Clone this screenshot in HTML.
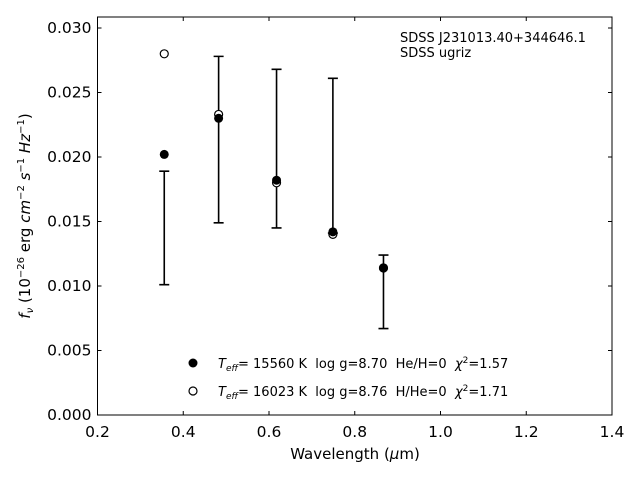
<!DOCTYPE html>
<html><head><meta charset="utf-8"><style>
body{margin:0;background:#fff;}
svg text{font-family:"DejaVu Sans","Liberation Sans",sans-serif;fill:#000;white-space:pre;}
</style></head><body>
<svg id="chart" width="640" height="480" xmlns="http://www.w3.org/2000/svg" xml:space="preserve">
<rect width="640" height="480" fill="#fff"/>
<g id="plot"></g>
<text x="400" y="42" font-size="13">SDSS J231013.40+344646.1</text>
<text x="400" y="57" font-size="13">SDSS ugriz</text>
<g>
<circle cx="193" cy="363" r="4.5" fill="#000"/>
<text x="218" y="368" font-size="13"><tspan font-style="italic">T</tspan><tspan font-style="italic" font-size="9" dy="3">eff</tspan><tspan dy="-3">= 15560 K  log g=8.70  He/H=0  </tspan><tspan font-style="italic">χ</tspan><tspan font-size="9" dy="-5">2</tspan><tspan dy="5">=1.57</tspan></text>
<circle cx="193" cy="391" r="4" fill="#fff" stroke="#000" stroke-width="1.2"/>
<text x="218" y="396" font-size="13"><tspan font-style="italic">T</tspan><tspan font-style="italic" font-size="9" dy="3">eff</tspan><tspan dy="-3">= 16023 K  log g=8.76  H/He=0  </tspan><tspan font-style="italic">χ</tspan><tspan font-size="9" dy="-5">2</tspan><tspan dy="5">=1.71</tspan></text>
</g>
<text x="355" y="459" font-size="15" text-anchor="middle">Wavelength (<tspan font-style="italic">μ</tspan>m)</text>
<text transform="translate(30,216) rotate(-90)" font-size="15" text-anchor="middle"><tspan font-style="italic">f</tspan><tspan font-style="italic" font-size="10" dy="3">ν</tspan><tspan dy="-3"> (10</tspan><tspan font-size="10" dy="-6">−26</tspan><tspan dy="6"> erg </tspan><tspan font-style="italic">cm</tspan><tspan font-size="10" dy="-6">−2</tspan><tspan dy="6" font-style="italic"> s</tspan><tspan font-size="10" dy="-6">−1</tspan><tspan dy="6" font-style="italic"> Hz</tspan><tspan font-size="10" dy="-6">−1</tspan><tspan dy="6">)</tspan></text>
</svg>
<script>
const wavelengths=[0.3557,0.4825,0.6176,0.7490,0.8670];
const errLow=[0.0101,0.0149,0.0145,0.0141,0.0067];
const errHigh=[0.0189,0.0278,0.0268,0.0261,0.0124];
const model1=[0.0202,0.0230,0.0182,0.0142,0.0114];
const model2=[0.0280,0.0233,0.0180,0.0140,0.0114];
const xTicks=[0.2,0.4,0.6,0.8,1.0,1.2,1.4];
const yTicks=[0,0.005,0.010,0.015,0.020,0.025,0.030];
const X0=97.5,X1=612,Y0=415,Y1=17;
const xs=v=>X0+(v-0.2)/1.2*(X1-X0);
const ys=v=>Y0-v/0.030*(Y0-28);
const NS='http://www.w3.org/2000/svg';
const g=document.getElementById('plot');
function mk(t,a){const e=document.createElementNS(NS,t);for(const k in a)e.setAttribute(k,a[k]);g.appendChild(e);return e;}
xTicks.forEach((v,i)=>{
 const x=xs(v);
 const t1=mk('line',{x1:x,x2:x,y1:Y0,y2:Y0-4,stroke:'#000'});
 
 
 const t2=mk('line',{x1:x,x2:x,y1:Y1,y2:Y1+4,stroke:'#000'});
 
 
 const l=mk('text',{x:x,y:Y0+22,'font-size':15.5,'text-anchor':'middle'});
 l.textContent=v.toFixed(1);
 
 
});
yTicks.forEach(v=>{
 const y=ys(v);
 const t1=mk('line',{x1:X0,x2:X0+4,y1:y,y2:y,stroke:'#000'});
 
 
 const t2=mk('line',{x1:X1,x2:X1-4,y1:y,y2:y,stroke:'#000'});
 
 
 const l=mk('text',{x:X0-6,y:y+5,'font-size':15.5,'text-anchor':'end'});
 l.textContent=v.toFixed(3);
 
 
});
const frame=mk('rect',{x:X0,y:Y1,width:X1-X0,height:Y0-Y1,fill:'none',stroke:'#000','stroke-width':1});


wavelengths.forEach((w,i)=>{
 const x=xs(w),a=ys(errLow[i]),b=ys(errHigh[i]);
 const e=mk('path',{d:`M${x},${a}V${b}M${x-5},${a}H${x+5}M${x-5},${b}H${x+5}`,stroke:'#000','stroke-width':1.6,fill:'none'});
 
 
 const p2=mk('circle',{cx:x,cy:ys(model2[i]),r:4,fill:'#fff',stroke:'#000','stroke-width':1.2});
 
 
 const p1=mk('circle',{cx:x,cy:ys(model1[i]),r:4.5,fill:'#000'});
 
 
});
</script>
</body></html>
